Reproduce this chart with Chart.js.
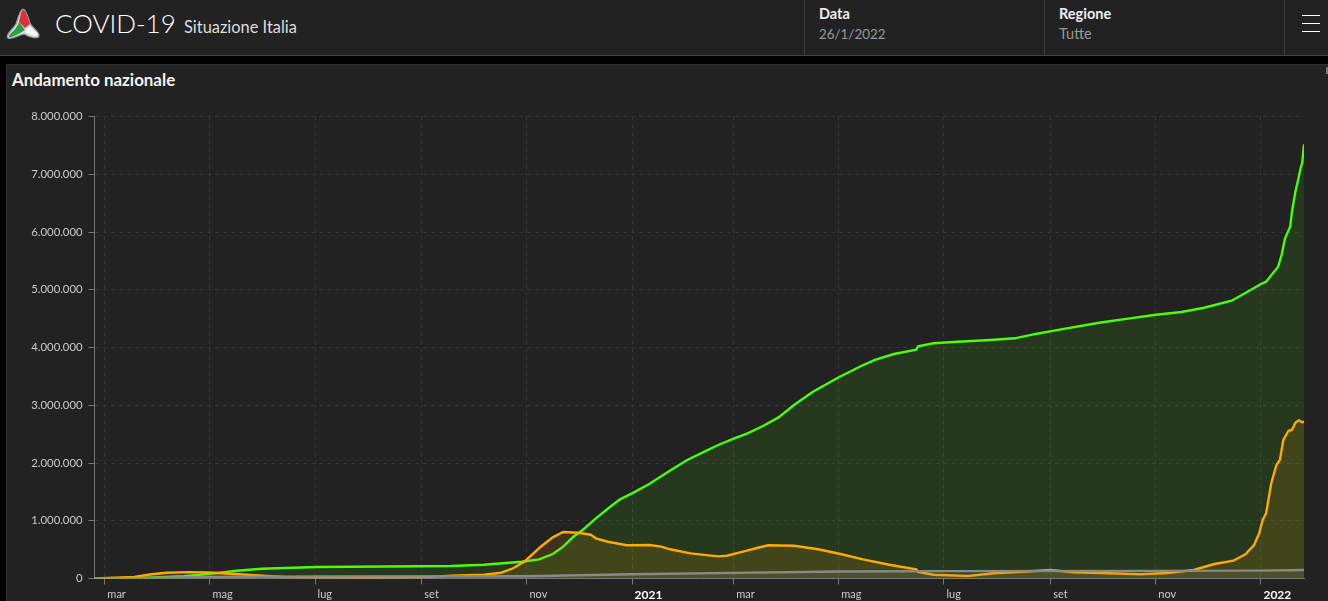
<!DOCTYPE html>
<html lang="it">
<head>
<meta charset="utf-8">
<title>COVID-19 Situazione Italia</title>
<script src="https://cdn.jsdelivr.net/npm/chart.js@4"></script>
<style>
  html, body { margin: 0; height: 100%; background: #000; overflow: hidden; font-family: Lato, "Noto Sans", sans-serif; color: #fff; }
  .header { position: absolute; left: 0; top: 0; width: 1328px; height: 55px; background: #222; border-bottom: 1px solid #444; }
  .logo { position: absolute; left: 5px; top: 7px; }
  .titolo { position: absolute; left: 55px; top: 7px; font-size: 26px; font-weight: 300; }
  .sotto { position: absolute; left: 184px; top: 17px; font-size: 16.4px; color: #ddd; }
  .cella { position: absolute; top: 0; height: 55px; width: 240px; border-left: 1px solid #3c3c3c; }
  .cella b { position: absolute; left: 14px; top: 5px; font-size: 14.5px; font-weight: 700; color: #eee; }
  .cella span { position: absolute; left: 14px; top: 25px; font-size: 14.5px; color: #999; }
  .cella span.data { font-size: 13.4px; top: 26px; }
  .menu { position: absolute; left: 1284px; top: 0; width: 43px; height: 55px; border-left: 1px solid #3c3c3c; }
  .menu i { position: absolute; left: 17px; width: 18px; height: 1px; background: #fff; }
  .card { position: absolute; left: 6px; top: 64px; width: 1322px; height: 537px; background: #222; border: 1px solid #333; border-right: 0; border-bottom: 0; box-sizing: border-box; }
  .card h2 { position: absolute; left: 5px; top: 4px; margin: 0; font-size: 16.9px; font-weight: 700; color: #f2f2f2; }
  .barra { position: absolute; left: 1326px; top: 67px; width: 2px; height: 7px; background: #777; }
  .grafico { position: absolute; left: 0; top: 100px; width: 1328px; height: 501px; }
</style>
</head>
<body>
<div class="header">
  <svg class="logo" width="36" height="34" viewBox="0 0 36 34">
    <path d="M18 2 C21 2 23 10 25 16 C27 21 35 25 34 29 C33 32 26 31 19 27 C14 28 5 33 3 31 C0 28 8 22 11 17 C13 12 15 2 18 2 Z" fill="#ddd" stroke="#999" stroke-width="1.2"/>
    <path d="M18 3 C21 3 23 11 25 17 L20 21 L14 15 C15 11 16 3 18 3 Z" fill="#d8323c"/>
    <path d="M14 15 L20 23 C14 27 6 31 4 30 C3 27 11 24 14 15 Z" fill="#2e9e46"/>
    <path d="M21 22 L25 19 C27 22 33 25 33 28 C31 30 25 28 20 25 Z" fill="#f4f4f4"/>
  </svg>
  <div class="titolo">COVID-19</div>
  <div class="sotto">Situazione Italia</div>
  <div class="cella" style="left:804px"><b>Data</b><span class="data">26/1/2022</span></div>
  <div class="cella" style="left:1044px"><b>Regione</b><span>Tutte</span></div>
  <div class="menu"><i style="top:15px"></i><i style="top:23px"></i><i style="top:31px"></i></div>
</div>
<div class="card"><h2>Andamento nazionale</h2></div>
<div class="barra"></div>
<div class="grafico"><canvas id="andamento"></canvas></div>

<script>
// giorni contati dal 24/2/2020
const giorniGuariti = [0, 23, 52, 67, 81, 97, 129, 189, 207, 226, 248, 258, 266, 272, 278, 284, 291, 299, 305, 312,
  322, 333, 344, 354, 362, 371, 379, 388, 397, 406, 417, 432, 445, 453, 464, 477, 478, 487, 501, 520, 534, 547, 561,
  584, 601, 616, 631, 644, 660, 669, 677, 680, 687, 689, 691, 694, 695, 697, 699, 700, 701, 702];
const guariti = [0, 5000, 40000, 80000, 130000, 170000, 199000, 211000, 216000, 239000, 291000, 332000, 424000, 551000,
  724000, 857000, 1042000, 1233000, 1371000, 1475000, 1636000, 1849000, 2052000, 2196000, 2312000, 2421000, 2514000,
  2641000, 2790000, 3004000, 3235000, 3484000, 3680000, 3784000, 3887000, 3962000, 4021000, 4073000, 4100000, 4130000,
  4159000, 4239000, 4315000, 4433000, 4505000, 4568000, 4615000, 4689000, 4810000, 4961000, 5100000, 5140000, 5399000,
  5602000, 5891000, 6092000, 6351000, 6698000, 6958000, 7100000, 7200000, 7519000];

const giorniPositivi = [0, 23, 33, 42, 54, 67, 81, 95, 110, 129, 158, 189, 207, 226, 236, 243, 250, 259, 266, 272, 281,
  288, 291, 298, 309, 322, 329, 334, 346, 362, 367, 377, 385, 391, 406, 420, 433, 446, 462, 477, 478, 487, 507, 522,
  536, 555, 568, 584, 607, 623, 638, 650, 661, 668, 673, 676, 678, 680, 683, 686, 688, 690, 693, 695, 697, 699, 701, 702];
const positivi = [0, 26000, 73000, 100000, 110000, 105000, 78000, 55000, 26000, 17000, 14000, 20000, 48000, 66000, 100000,
  177000, 303000, 551000, 713000, 805000, 793000, 758000, 696000, 637000, 575000, 580000, 551000, 506000, 436000, 384000,
  395000, 471000, 533000, 575000, 568000, 506000, 424000, 332000, 234000, 159000, 113000, 66000, 43000, 90000, 112000,
  147000, 107000, 95000, 73000, 95000, 147000, 251000, 308000, 419000, 580000, 783000, 1013000, 1129000, 1649000,
  1965000, 2052000, 2398000, 2559000, 2571000, 2698000, 2739000, 2705000, 2710000];

const giorniDeceduti = [0, 23, 36, 67, 128, 251, 312, 371, 432, 493, 616, 677, 702];
const deceduti = [0, 3000, 12000, 28000, 35000, 39000, 74000, 97000, 121000, 128000, 132000, 137000, 146000];

// tacche dell'asse x, primo del mese ogni due mesi
const tacche = [6, 67, 128, 190, 251, 312, 371, 432, 493, 555, 616, 677];
const etichette = ['mar', 'mag', 'lug', 'set', 'nov', '2021', 'mar', 'mag', 'lug', 'set', 'nov', '2022'];

const FONT = 'Lato, "Noto Sans", sans-serif';

function punti(giorni, valori) {
    return giorni.map((g, i) => ({ x: g, y: valori[i] }));
}

function eAnno(ctx) {
    return (etichette[ctx.index] || '').length > 3;
}

function serie(label, dati, colore, riempimento) {
    return {
        label: label,
        data: dati,
        borderColor: colore,
        backgroundColor: riempimento,
        borderWidth: 2.4,
        pointRadius: 0,
        fill: 'origin',
        tension: 0
    };
}

new Chart(document.getElementById('andamento').getContext('2d'), {
    type: 'line',
    data: {
        datasets: [
            serie('Deceduti', punti(giorniDeceduti, deceduti), '#8a8a8a', 'rgba(136,136,136,0.15)'),
            serie('Attualmente positivi', punti(giorniPositivi, positivi), '#ffaa00', 'rgba(255,170,0,0.13)'),
            serie('Guariti', punti(giorniGuariti, guariti), '#4cff00', 'rgba(76,255,0,0.1)')
        ]
    },
    options: {
        responsive: true,
        maintainAspectRatio: false,
        animation: false,
        layout: { padding: { top: 16.5, right: 24, left: 0, bottom: 0 } },
        plugins: { legend: { display: false }, tooltip: { enabled: false } },
        scales: {
            x: {
                type: 'linear',
                min: 0,
                max: 702,
                afterFit: function(scale) { scale.height = 22.5; },
                afterBuildTicks: function(scale) { scale.ticks = tacche.map(v => ({ value: v })); },
                border: { color: '#777', dash: [4, 4] },
                grid: { color: '#363636', tickColor: '#777', tickLength: 6, tickBorderDash: [] },
                ticks: {
                    autoSkip: false,
                    maxRotation: 0,
                    align: 'start',
                    labelOffset: 2.5,
                    padding: 3,
                    callback: function(value, i) { return etichette[i]; },
                    color: function(ctx) { return eAnno(ctx) ? '#fff' : '#ccc'; },
                    font: function(ctx) {
                        return { family: FONT, size: eAnno(ctx) ? 12 : 11, weight: eAnno(ctx) ? 'bold' : 'normal' };
                    }
                }
            },
            y: {
                min: 0,
                max: 8000000,
                afterFit: function(scale) { scale.width = 94.5; },
                border: { color: '#777', dash: [4, 4] },
                grid: { color: '#363636', tickColor: '#777', tickLength: 6, tickBorderDash: [] },
                ticks: {
                    stepSize: 1000000,
                    padding: 6,
                    color: '#ccc',
                    font: { family: FONT, size: 11.3 },
                    callback: function(value) { return value.toLocaleString('it-IT'); }
                }
            }
        }
    }
});
</script>
</body>
</html>
